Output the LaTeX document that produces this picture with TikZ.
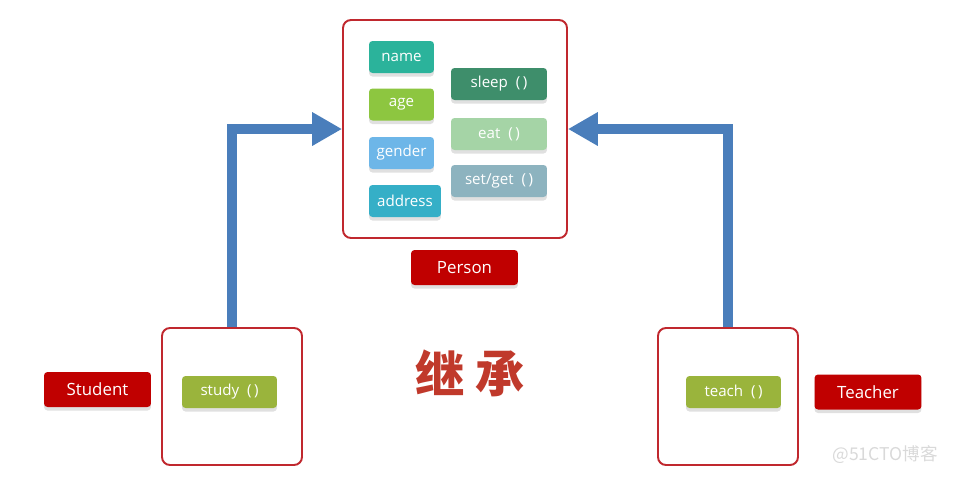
\documentclass[tikz,border=0pt]{standalone}
\usepackage{fontspec}
\setmainfont{Open Sans}
\newfontfamily\cjk{Noto Sans CJK SC}
\usetikzlibrary{arrows.meta,shadows}
\definecolor{framered}{HTML}{C0282E}
\definecolor{labelred}{HTML}{C00000}
\definecolor{flowblue}{HTML}{4A7EBB}
\definecolor{cname}{HTML}{2BB39B}
\definecolor{cage}{HTML}{8DC640}
\definecolor{cgender}{HTML}{6DB6E8}
\definecolor{caddress}{HTML}{35AFC7}
\definecolor{csleep}{HTML}{3E8E6B}
\definecolor{ceat}{HTML}{A5D4A6}
\definecolor{csetget}{HTML}{8DB3BF}
\definecolor{cmethod}{HTML}{9AB43C}
\definecolor{inkred}{HTML}{C0392B}

\begin{document}
\begin{tikzpicture}[x=0.02cm, y=-0.02cm,
  frame/.style={draw=framered, line width=1.1pt, rounded corners=4.5pt, fill=white, inner sep=0pt},
  pill/.style={rounded corners=2pt, text=white, inner sep=0pt, minimum height=0.64cm,
    font=\fontsize{8.6}{9}\selectfont,
    drop shadow={shadow xshift=0pt, shadow yshift=-2pt, fill=black, opacity=0.12}},
  tag/.style={pill, fill=labelred, minimum height=0.7cm, minimum width=2.14cm,
    font=\fontsize{9.6}{10}\selectfont},
  flow/.style={draw=flowblue, line width=5.7pt, -{Triangle[length=17pt, width=18pt]}}]
  \useasboundingbox (0,0) rectangle (954,485);
  % Oberklasse
  \node[frame, minimum width=4.48cm, minimum height=4.36cm] (person) at (455,129) {};
  \node[pill, fill=cname, minimum width=1.3cm] (name) at (401.5,57) {name};
  \node[pill, fill=cage, minimum width=1.3cm] (age) at (401.5,104.5) {age};
  \node[pill, fill=cgender, minimum width=1.3cm] (gender) at (401.5,153) {gender};
  \node[pill, fill=caddress, minimum width=1.44cm] (address) at (405,201) {address};
  \node[pill, fill=csleep, minimum width=1.92cm] (sleep) at (499,84) {sleep\ \ (\,)};
  \node[pill, fill=ceat, minimum width=1.92cm] (eat) at (499,134) {eat\ \ (\,)};
  \node[pill, fill=csetget, minimum width=1.92cm] (setget) at (499,181) {set/get\ \ (\,)};
  \node[tag] (personlbl) at (464.5,267.5) {Person};
  % Unterklassen
  \node[frame, minimum width=2.8cm, minimum height=2.74cm] (student) at (232,396.5) {};
  \node[pill, fill=cmethod, minimum width=1.9cm] (study) at (229.5,392) {study\ \ (\,)};
  \node[tag] (studentlbl) at (97.5,389.5) {Student};
  \node[frame, minimum width=2.8cm, minimum height=2.74cm] (teacher) at (728,396.5) {};
  \node[pill, fill=cmethod, minimum width=1.9cm] (teach) at (733.5,392) {teach\ \ (\,)};
  \node[tag] (teacherlbl) at (868,392) {Teacher};
  % Vererbung
  \draw[flow] (student.north) |- (person.west);
  \draw[flow] (teacher.north) |- (person.east);
  \node[text=inkred, font=\cjk\bfseries\fontsize{28}{28}\selectfont] (inherit) at (470,373) {继\hspace{6pt}承};
  \node[text=gray!30, font=\cjk\fontsize{10}{11}\selectfont] (mark) at (885,455) {@51CTO博客};
\end{tikzpicture}
\end{document}
